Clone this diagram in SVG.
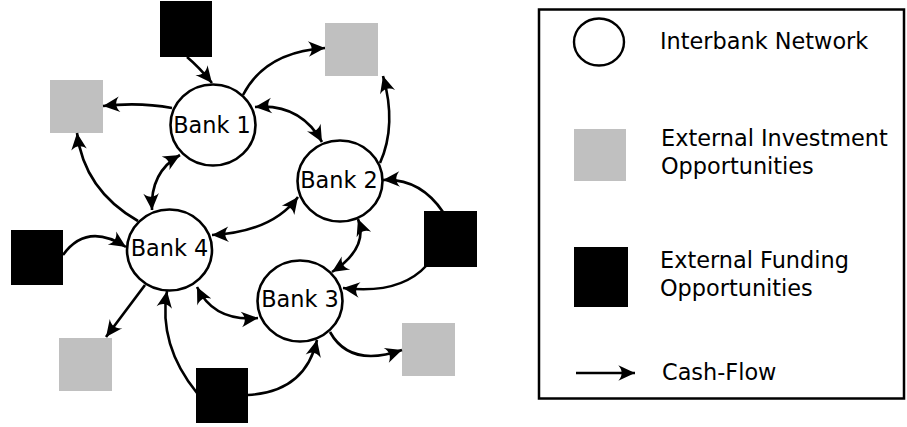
<svg xmlns="http://www.w3.org/2000/svg" width="907" height="427" viewBox="0 0 907 427">
<style>
.bank{fill:#fff;stroke:#000;stroke-width:2.6}
.inv{fill:#c0c0c0}
.fund{fill:#000}
.lbl{font-family:"DejaVu Sans",sans-serif;font-size:22.4px;fill:#000}
.mid{text-anchor:middle}
.c{fill:none;stroke:#000;stroke-width:2.6;marker-end:url(#ah)}
.d{marker-start:url(#ah)}
</style>
<defs>
<marker id="ah" markerUnits="userSpaceOnUse" orient="auto-start-reverse" refX="0" refY="0" markerWidth="20" markerHeight="20" viewBox="-16 -8 18 16" overflow="visible">
<path d="M0,0 L-15,-7 C-11,-2.5 -11,2.5 -15,7 Z" fill="#000"/>
</marker>
</defs>
<rect width="907" height="427" fill="#fff"/>
<g id="fund-top"><rect class="fund" x="160" y="1" width="52" height="56"/></g>
<g id="inv-left"><rect class="inv" x="50" y="80" width="53" height="53"/></g>
<g id="inv-top"><rect class="inv" x="325" y="23" width="53" height="53"/></g>
<g id="fund-right"><rect class="fund" x="424" y="211" width="53" height="56"/></g>
<g id="inv-bottom-right"><rect class="inv" x="402" y="323" width="53" height="53"/></g>
<g id="fund-left"><rect class="fund" x="11" y="230" width="52" height="55"/></g>
<g id="inv-bottom-left"><rect class="inv" x="59" y="338" width="53" height="53"/></g>
<g id="fund-bottom"><rect class="fund" x="196" y="368" width="52" height="55"/></g>
<g id="bank1"><ellipse class="bank" cx="213" cy="125" rx="42.5" ry="40.5"/><text class="lbl mid" x="212" y="133">Bank 1</text></g>
<g id="bank2"><ellipse class="bank" cx="340" cy="181" rx="42.5" ry="40.5"/><text class="lbl mid" x="339" y="188">Bank 2</text></g>
<g id="bank3"><ellipse class="bank" cx="300" cy="301" rx="42.5" ry="40.5"/><text class="lbl mid" x="300" y="307">Bank 3</text></g>
<g id="bank4"><ellipse class="bank" cx="169.5" cy="250" rx="42.5" ry="40.5"/><text class="lbl mid" x="169.5" y="256">Bank 4</text></g>
<g id="connectors">
<path class="c" d="M187,57 Q199,67 212,83"/>
<path class="c" d="M172,108 Q140,102 103,106"/>
<path class="c" d="M138,221 Q84,190 77,133"/>
<path class="c d" d="M180,155 Q150,172 152,210"/>
<path class="c" d="M243,95 Q265,52 325,48"/>
<path class="c d" d="M255,107 Q300,103 322,142"/>
<path class="c" d="M380,163 Q397,125 383,76"/>
<path class="c" d="M443,212 Q420,178 383,180"/>
<path class="c" d="M427,265 Q400,295 343,288"/>
<path class="c d" d="M358,219 Q369,248 332,272"/>
<path class="c" d="M330,332 Q350,368 402,350"/>
<path class="c" d="M248,395 Q305,392 317,340"/>
<path class="c" d="M197,393 Q158,345 167,291"/>
<path class="c d" d="M197,287 Q214,322 258,318"/>
<path class="c d" d="M212,235 Q272,232 298,197"/>
<path class="c" d="M63,255 Q87,222 126,247"/>
<path class="c" d="M145,285 L106,337"/>
</g>
<g id="legend">
<rect x="539" y="9.5" width="365" height="389" fill="none" stroke="#000" stroke-width="2.5"/>
<ellipse cx="599" cy="42" rx="25" ry="23.5" fill="#fff" stroke="#000" stroke-width="2.4"/>
<text class="lbl" x="660" y="49">Interbank Network</text>
<rect class="inv" x="574" y="129" width="52" height="52"/>
<text class="lbl" x="661" y="146">External Investment</text>
<text class="lbl" x="661" y="174">Opportunities</text>
<rect class="fund" x="574" y="247" width="54" height="60"/>
<text class="lbl" x="660" y="268">External Funding</text>
<text class="lbl" x="660" y="296">Opportunities</text>
<path class="c" d="M576,373 L635,373"/>
<text class="lbl" x="662" y="380">Cash-Flow</text>
</g>
</svg>
